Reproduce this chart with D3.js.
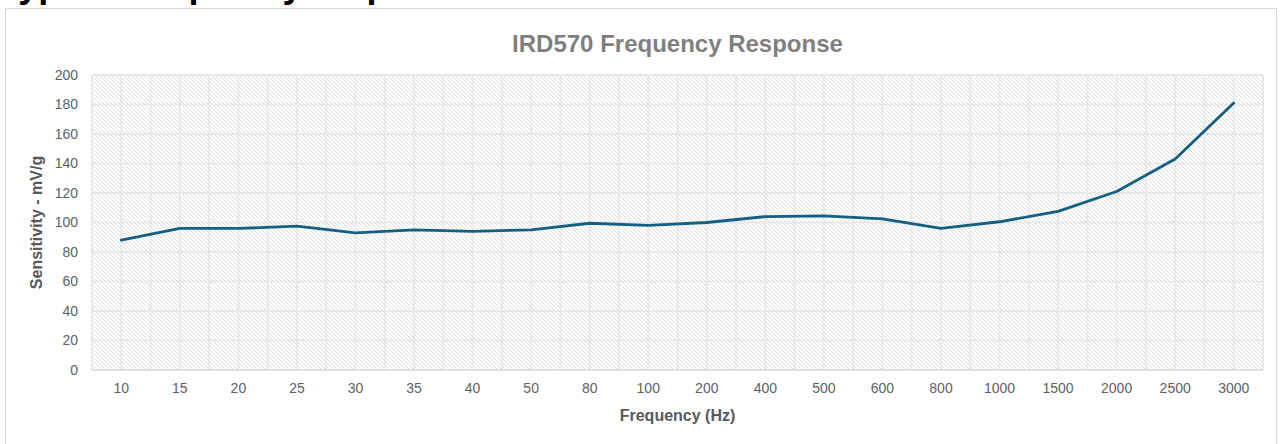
<!DOCTYPE html>
<html>
<head>
<meta charset="utf-8">
<script src="https://cdn.jsdelivr.net/npm/d3@7"></script>
<style>
  html, body { margin: 0; padding: 0; background: #ffffff; }
  svg { display: block; font-family: "Liberation Sans", Arial, sans-serif; }
</style>
</head>
<body>
<svg id="chart" width="1280" height="444"></svg>
<script>
const categories = ["10","15","20","25","30","35","40","50","80","100","200","400","500","600","800","1000","1500","2000","2500","3000"];
const sensitivity = [88, 96, 96, 97.5, 93, 95, 94, 95, 99.5, 98, 100, 104, 104.5, 102.5, 96, 100.5, 107.5, 121, 143, 181];
const yTicks = [0, 20, 40, 60, 80, 100, 120, 140, 160, 180, 200];
const chartTitle = "IRD570 Frequency Response";
const pageHeading = "Typical frequency response";
const xTitle = "Frequency (Hz)";
const yTitle = "Sensitivity - mV/g";

const svg = d3.select("#chart");
const plot = { left: 92, right: 1263, top: 75, bottom: 370 };

// cropped page heading above the chart
svg.append("text")
  .attr("x", -1).attr("y", -3)
  .attr("font-size", 36).attr("font-weight", "bold")
  .attr("fill", "#000")
  .text(pageHeading);

// chart border
svg.append("rect")
  .attr("x", 5.5).attr("y", 8.5)
  .attr("width", 1271).attr("height", 450)
  .attr("fill", "#fff")
  .attr("stroke", "#d9d9d9").attr("stroke-width", 1);

// hatch pattern
const defs = svg.append("defs");
const pat = defs.append("pattern")
  .attr("id", "hatch").attr("patternUnits", "userSpaceOnUse")
  .attr("width", 4).attr("height", 4);
pat.append("rect").attr("width", 4).attr("height", 4).attr("fill", "#ffffff");
pat.append("path")
  .attr("d", "M-1,-1 L5,5 M-1,3 L1,5 M3,-1 L5,1")
  .attr("stroke", "#dedede").attr("stroke-width", 1);

const x = d3.scaleBand().domain(categories).range([plot.left, plot.right]).padding(0);
const y = d3.scaleLinear().domain([0, 200]).range([plot.bottom, plot.top]);

svg.append("rect")
  .attr("x", plot.left).attr("y", plot.top)
  .attr("width", plot.right - plot.left).attr("height", plot.bottom - plot.top)
  .attr("fill", "url(#hatch)");

// vertical gridlines at band edges and centers
const bw = x.bandwidth();
const vLines = [];
categories.forEach(c => { vLines.push(x(c)); vLines.push(x(c) + bw / 2); });
vLines.push(plot.right);
svg.append("g").selectAll("line").data(vLines).join("line")
  .attr("x1", d => d).attr("x2", d => d)
  .attr("y1", plot.top).attr("y2", plot.bottom)
  .attr("stroke", "#e8e8e8").attr("stroke-width", 2);

// horizontal gridlines
svg.append("g").selectAll("line").data(yTicks).join("line")
  .attr("x1", plot.left).attr("x2", plot.right)
  .attr("y1", d => y(d)).attr("y2", d => y(d))
  .attr("stroke", "#e8e8e8").attr("stroke-width", 2);

// bottom axis line
svg.append("line")
  .attr("x1", plot.left).attr("x2", plot.right)
  .attr("y1", plot.bottom).attr("y2", plot.bottom)
  .attr("stroke", "#dcdcdc").attr("stroke-width", 1.5);

// y axis
const yAxis = svg.append("g")
  .attr("transform", `translate(${plot.left - 14},0)`)
  .call(d3.axisLeft(y).tickValues(yTicks).tickSize(0).tickPadding(0));
yAxis.select(".domain").remove();
yAxis.selectAll("text")
  .attr("font-size", 14).attr("fill", "#5f5f5f")
  .attr("font-family", "Liberation Sans, Arial, sans-serif");

// x axis
const xAxis = svg.append("g")
  .attr("transform", `translate(0,${plot.bottom})`)
  .call(d3.axisBottom(x).tickSize(0).tickPadding(13));
xAxis.select(".domain").remove();
xAxis.selectAll("text")
  .attr("font-size", 14).attr("fill", "#5f5f5f")
  .attr("font-family", "Liberation Sans, Arial, sans-serif");

// line
const line = d3.line()
  .x((d, i) => x(categories[i]) + bw / 2)
  .y(d => y(d));
svg.append("path")
  .datum(sensitivity)
  .attr("d", line)
  .attr("fill", "none")
  .attr("stroke", "#156082")
  .attr("stroke-width", 2.8)
  .attr("stroke-linejoin", "round")
  .attr("stroke-linecap", "round");

// titles
svg.append("text")
  .attr("x", (plot.left + plot.right) / 2).attr("y", 52)
  .attr("text-anchor", "middle")
  .attr("font-size", 24).attr("font-weight", "bold")
  .attr("fill", "#7f7f7f")
  .text(chartTitle);

svg.append("text")
  .attr("x", (plot.left + plot.right) / 2).attr("y", 421)
  .attr("text-anchor", "middle")
  .attr("font-size", 16).attr("font-weight", "bold")
  .attr("fill", "#595959")
  .text(xTitle);

svg.append("text")
  .attr("transform", `translate(42,${(plot.top + plot.bottom) / 2}) rotate(-90)`)
  .attr("text-anchor", "middle")
  .attr("font-size", 16).attr("font-weight", "bold")
  .attr("fill", "#595959")
  .text(yTitle);
</script>
</body>
</html>
